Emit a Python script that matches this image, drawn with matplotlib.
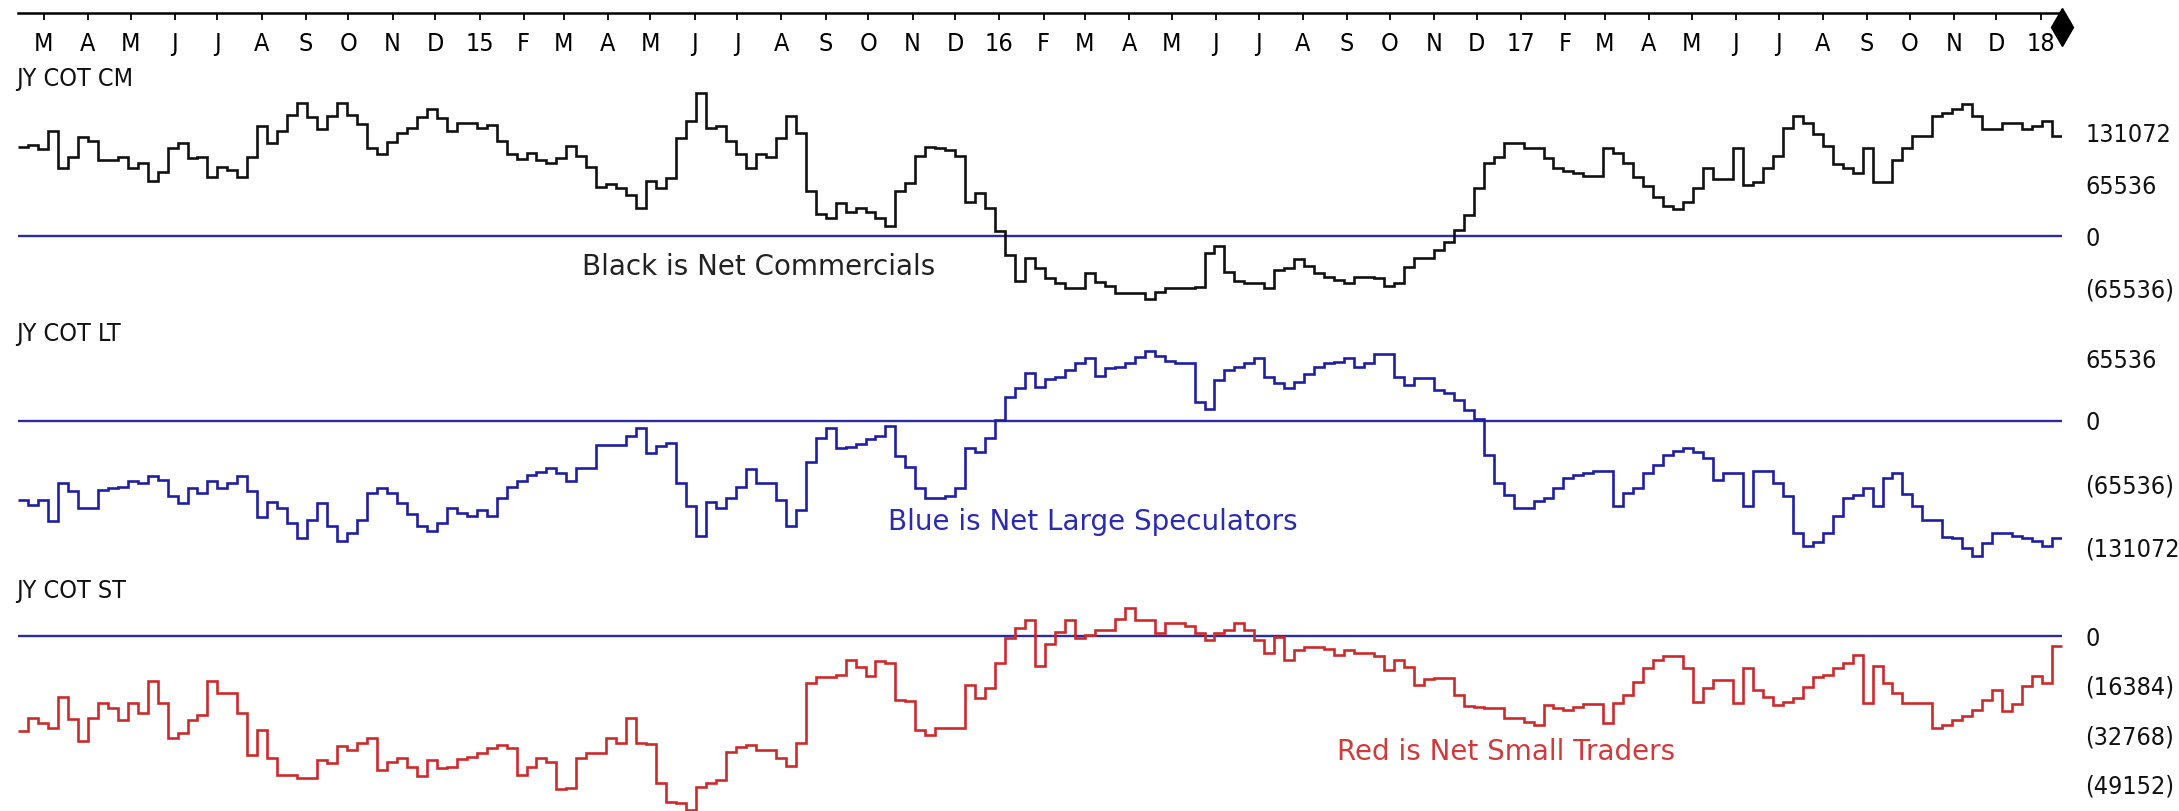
import pandas as pd
import matplotlib
matplotlib.use('Agg')
import matplotlib.pyplot as plt
import matplotlib.dates as mdates
from matplotlib import font_manager
from matplotlib.ticker import FixedLocator, FixedFormatter, NullLocator

# weekly COT report dates start here (Tuesdays)
first_week = '2014-02-11'

# JY net positions, contracts, one value per week
commercials = [
    112900, 115800, 110300, 133600, 86100, 100900, 126400, 120900, 96700, 96700,
    100900, 86100, 92500, 70400, 81000, 111600, 118000, 98800, 100900, 75500,
    88200, 84000, 75500, 100900, 140400, 118000, 133600, 154000, 168800, 151800,
    136200, 152700, 168800, 154000, 142100, 111600, 104000, 120000, 130700, 137000,
    151800, 161600, 149800, 133600, 143400, 143400, 137000, 141200, 121300, 104000,
    98000, 105200, 96700, 92500, 98800, 114500, 101800, 88200, 62800, 65700,
    60700, 52200, 35200, 70400, 60700, 73400, 124300, 146300, 181600, 137000,
    140000, 120900, 104000, 86100, 104000, 100900, 124300, 152700, 130700, 57700,
    28000, 22500, 41600, 30900, 35200, 30900, 22500, 13100, 57700, 67100,
    101800, 113700, 111600, 109400, 101800, 43700, 54300, 35200, 6800,
    -24200, -57300, -28000, -40700, -53400, -59800, -66200, -66200, -47100, -58500,
    -63600, -72500, -72500, -72500, -80200, -71300, -66200, -66200, -66200, -64900,
    -21600, -12700, -45800, -57300, -59800, -59800, -66200, -43300, -40700, -29300,
    -38200, -47100, -52200, -56000, -59800, -52200, -52200, -53400, -63600, -59800,
    -39400, -28000, -28000, -17800, -7600,
    7600, 26700, 61100, 92900, 100500, 118300, 118300, 112000, 112000, 99300,
    86500, 82700, 80200, 76400, 76400, 112000, 105600, 92900, 75100, 63600,
    49600, 38200, 34400, 43300, 61100, 86500, 72500, 72500, 112000, 64900,
    68700, 86500, 101800, 137400, 152700, 143800, 129800, 114500, 91600, 86500,
    80200, 112000, 68700, 68700, 96700, 112000, 127300, 127300, 152700, 156500,
    161600, 168000, 152700, 136200, 136200, 143800, 143800, 136200, 140000, 146300,
    127300,
]

large_specs = [
    -82200, -87400, -82200, -103700, -64900, -72500, -90900, -90900, -71800, -70100,
    -68300, -62400, -64900, -56900, -61400, -78000, -85700, -70100, -75300, -62400,
    -70100, -64900, -57200, -72800, -99500, -83900, -90900, -106500, -122100, -103000,
    -85700, -109200, -124500, -116900, -103000, -74600, -70100, -74600, -85700, -96800,
    -109200, -114100, -106500, -90900, -95400, -98800, -92600, -98800, -80500, -68300,
    -62400, -56200, -52700, -49200, -54500, -62400, -49200, -49200, -25000, -25000,
    -25000, -15600, -7600, -33600, -26000, -23200, -64200, -88400, -119600, -83900,
    -90900, -80500, -68300, -50300, -64200, -64900, -82200, -109200, -92600, -42300,
    -18000, -7600, -28400, -26700, -24000, -19100, -15600, -5200, -36400, -47500,
    -70100, -80500, -80500, -78000, -70100, -28400, -31900, -18000, 1500,
    25300, 34000, 49600, 35700, 43300, 46100, 53100, 60000, 65200, 46800,
    54800, 56500, 60000, 66900, 73100, 67600, 62700, 60000, 60000, 20100,
    12500, 42700, 53100, 56500, 60700, 65200, 46100, 39200, 34000, 40900,
    48900, 56500, 60000, 61700, 65200, 56500, 60000, 69700, 69700, 46100,
    37500, 44400, 44400, 32200, 28800, 21800, 11400, 1700,
    -35400, -64900, -77000, -90900, -90900, -83200, -80500, -70100, -59600, -56200,
    -53800, -51700, -51700, -88400, -75300, -70100, -53800, -45800, -35400, -30900,
    -28400, -31900, -38800, -61400, -53800, -53800, -88400, -51700, -51700, -64200,
    -78000, -116200, -130100, -125500, -116900, -98800, -80500, -77000, -70100, -88400,
    -59600, -54500, -76000, -88400, -103000, -103000, -121000, -122100, -132500, -140500,
    -126600, -116900, -116900, -119600, -122100, -124500, -130100, -122100,
]

small_traders = [
    -31300, -27300, -28900, -30600, -20300, -27600, -34600, -27300, -22300, -23900,
    -27800, -22300, -25600, -14800, -22300, -33900, -32200, -27800, -26100, -14800,
    -18800, -18800, -25600, -39400, -31100, -40500, -46000, -46000, -47100, -47100,
    -41000, -42100, -36400, -37700, -35300, -33900, -44300, -41600, -40500, -43300,
    -46300, -41000, -43800, -43300, -40800, -39900, -38800, -37200, -36100, -37200,
    -46000, -43300, -40500, -41600, -50800, -50400, -40500, -38800, -38600, -33900,
    -35300, -27300, -35300, -35700, -48500, -54800, -55400, -57600, -50100, -48800,
    -47700,
    -38300, -36600, -36100, -37700, -37700, -40500, -43000, -35300, -15700, -13500,
    -13700, -12900, -7900, -10100, -13200, -8200, -9000, -21200, -21400, -31100,
    -32800, -30600, -30600, -30600, -16200, -20600, -17300, -9000, -800, 2500,
    5300, -9900, -2600, 1400, 5300, -800, 300, 2000, 2000, 5500,
    9200, 5300, 5300, 900, 4400, 4400, 3300, 900, -1300, 900,
    2000, 4400, 2000, -1300, -5700, -400, -7900, -4600, -3500, -3500,
    -4400, -6300, -4600, -5700, -5700, -6600, -11300, -7900, -10100, -16200,
    -14300, -14000, -14000,
    -19500, -23200, -23400, -23900, -23900, -27300, -27300, -28400, -29500, -22800,
    -23900, -24500, -23600, -22500, -22500, -28900, -22300, -19500, -15100, -10700,
    -7900, -6600, -6600, -10700, -21700, -17300, -14600, -14600, -22300, -10700,
    -17900, -20100, -22800, -21700, -20600, -16800, -13500, -12900, -10700, -9000,
    -6300, -22300, -9900, -15700, -18800, -22300, -22300, -22300, -30600, -29500,
    -27800, -26500, -24500, -21200, -17900, -24700, -22500, -16500, -13200, -15400,
    -3300,
]

cm_ticks = [131072, 65536, 0, -65536]
cm_labels = ['131072', '65536', '0', '(65536)']
lt_ticks = [65536, 0, -65536, -131072]
lt_labels = ['65536', '0', '(65536)', '(131072)']
st_ticks = [0, -16384, -32768, -49152]
st_labels = ['0', '(16384)', '(32768)', '(49152)']

edges = pd.date_range(first_week, periods=len(commercials) + 1, freq='7D')
x_edges = mdates.date2num(edges)

months = pd.date_range('2014-03-01', '2018-01-01', freq='MS')
month_labels = [d.strftime('%y') if d.month == 1 else d.strftime('%b')[0] for d in months]

# narrow face for the scale text, if one is installed
fonts = font_manager.fontManager.ttflist
if any(f.name == 'Liberation Sans Narrow' for f in fonts):
    plt.rcParams['font.family'] = ['Liberation Sans Narrow']
    scale_size = 19.5
elif any(f.name == 'DejaVu Sans' and f.stretch == 'condensed' for f in fonts):
    plt.rcParams['font.family'] = ['DejaVu Sans']
    plt.rcParams['font.stretch'] = 'condensed'
    scale_size = 18
else:
    plt.rcParams['font.family'] = ['DejaVu Sans Mono']
    scale_size = 15.5

W, H = 2179, 811
LEFT, RIGHT = 18, 2062
ZERO_CLR = '#2b2ba8'
LW = 1.9

fig = plt.figure(figsize=(W / 100, H / 100), dpi=100)
fig.patch.set_facecolor('white')


def add_panel(top, bottom, zero_px, per_px, ticks, labels):
    # panel placed by pixel rows, zero line at zero_px, per_px units per pixel
    ax = fig.add_axes([LEFT / W, 1 - bottom / H, (RIGHT - LEFT) / W, (bottom - top) / H])
    ax.set_facecolor('none')
    for sp in ax.spines.values():
        sp.set_visible(False)
    ax.xaxis.set_major_locator(NullLocator())
    ax.yaxis.tick_right()
    ax.set_yticks(ticks)
    ax.set_yticklabels(labels)
    ax.tick_params(axis='y', length=0, pad=17, labelsize=scale_size, labelcolor='#111111')
    ax.set_xlim(x_edges[0], x_edges[-1])
    ax.set_ylim((zero_px - bottom) * per_px, (zero_px - top) * per_px)
    ax.axhline(0, color=ZERO_CLR, lw=1.7, zorder=1)
    return ax


ax_cm = add_panel(13, 320, 236, 1272.5, cm_ticks, cm_labels)
ax_lt = add_panel(320, 570, 421, 1040.3, lt_ticks, lt_labels)
ax_st = add_panel(570, 811, 636, 331.0, st_ticks, st_labels)

ax_cm.stairs(commercials, x_edges, baseline=None, color='#111111', lw=LW, zorder=2)
ax_lt.stairs(large_specs, x_edges, baseline=None, color='#1f1fa3', lw=LW, zorder=2)
ax_st.stairs(small_traders, x_edges, baseline=None, color='#cc2b2b', lw=LW, zorder=2,
             clip_on=False)

# time scale along the top
ax_cm.spines['top'].set_visible(True)
ax_cm.spines['top'].set_linewidth(1.8)
ax_cm.xaxis.set_major_locator(FixedLocator(mdates.date2num(months)))
ax_cm.xaxis.set_major_formatter(FixedFormatter(month_labels))
ax_cm.tick_params(axis='x', top=True, labeltop=True, bottom=False, labelbottom=False,
                  direction='in', length=5, width=1.3, pad=-31, labelsize=scale_size)
ax_cm.plot([x_edges[-1]], [0.955], marker='d', ms=19, color='black',
           transform=ax_cm.get_xaxis_transform(), clip_on=False)

# panel names
for name, base in [('JY COT CM', 86), ('JY COT LT', 341), ('JY COT ST', 598)]:
    fig.text(16 / W, 1 - base / H, name, fontsize=scale_size, va='baseline', color='#111111')

# notes
note = dict(family='DejaVu Sans', stretch='normal', fontsize=20, va='baseline')
fig.text(582 / W, 1 - 275 / H, 'Black is Net Commercials', color='#222222', **note)
fig.text(888 / W, 1 - 530 / H, 'Blue is Net Large Speculators', color='#2b2bb0', **note)
fig.text(1337 / W, 1 - 760 / H, 'Red is Net Small Traders', color='#d13a3a', **note)

fig.savefig('out.png', dpi=100)
